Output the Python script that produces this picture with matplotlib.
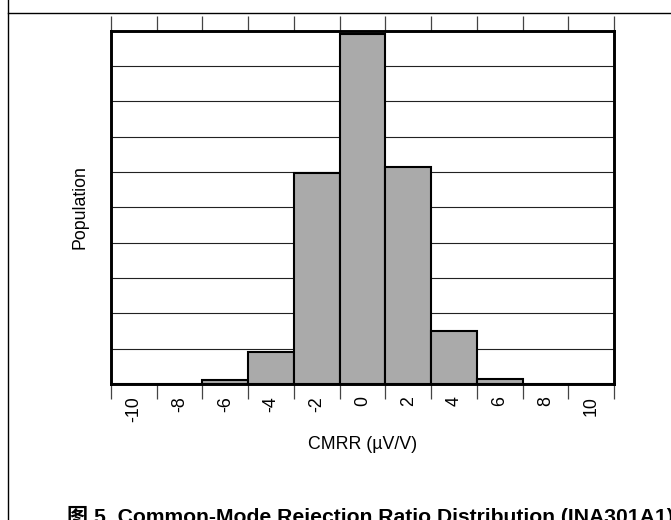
import matplotlib
matplotlib.use("Agg")
import matplotlib.pyplot as plt
from matplotlib.lines import Line2D

## Daten
categories = ["-10", "-8", "-6", "-4", "-2", "0", "2", "4", "6", "8", "10"]
population = [0, 0, 0.10, 0.90, 5.97, 9.91, 6.13, 1.50, 0.14, 0, 0]

plt.rcParams["font.family"] = ["Liberation Sans", "Noto Sans CJK SC", "DejaVu Sans"]

W, H = 671, 520
fig = plt.figure(figsize=(W / 100, H / 100), dpi=100)
ax = fig.add_axes([111 / W, 1 - 384 / H, 503 / W, (384 - 30.7) / H])

pos = list(range(len(categories)))
ax.bar(pos, population, width=1.0, color="#aaaaaa", edgecolor="black",
       linewidth=1.5, zorder=3)

ax.set_xlim(-0.5, len(categories) - 0.5)
ax.set_ylim(0, 10)

# Gitterlinien
ax.set_yticks(range(0, 11))
ax.yaxis.grid(True, color="#222222", linewidth=0.8, zorder=1)
ax.tick_params(axis="y", left=False, labelleft=False)

# Kategorien-Achse: Striche an den Grenzen, Beschriftung in der Mitte
ax.set_xticks(pos)
ax.set_xticklabels(categories, rotation=90, fontsize=12.8)
ax.set_xticks([p - 0.5 for p in pos] + [len(pos) - 0.5], minor=True)
ax.tick_params(axis="x", which="major", length=0, pad=9)
ax.tick_params(axis="x", which="minor", direction="out", length=11,
               width=0.9, color="#444444", top=True, bottom=True)

for s in ax.spines.values():
    s.set_linewidth(2.1)
    s.set_zorder(5)

fig.text(80 / W, 1 - 207 / H, "Population", rotation=90, ha="center",
         va="center", fontsize=12.8)
fig.text(362.5 / W, 1 - 449 / H, "CMRR (\u00b5V/V)", ha="center",
         va="baseline", fontsize=12.8)

# Bildunterschrift (wie im Original unten/rechts abgeschnitten)
fig.text(67 / W, 1 - 523 / H,
         "图 5. Common-Mode Rejection Ratio Distribution (INA301A1)",
         ha="left", va="baseline", fontsize=15.2, fontweight="bold")

# Rahmenlinien der Tabelle
fig.add_artist(Line2D([7.5 / W, 7.5 / W], [0, 1], color="black", linewidth=1.0))
fig.add_artist(Line2D([7.5 / W, 1], [1 - 13.3 / H, 1 - 13.3 / H],
                      color="black", linewidth=1.0))

fig.savefig("out.png", dpi=100)
